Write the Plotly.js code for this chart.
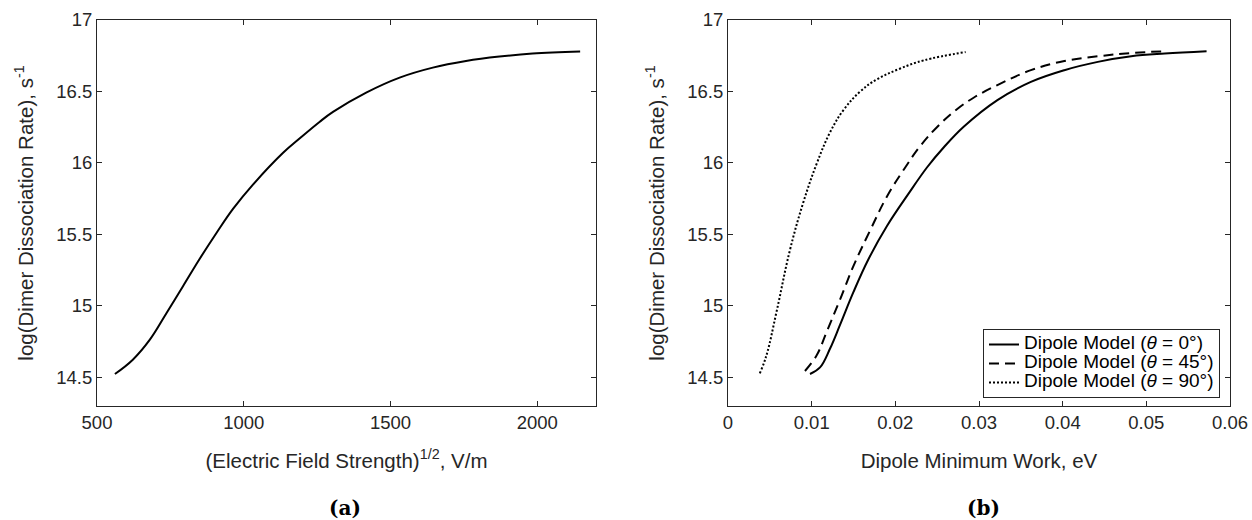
<!DOCTYPE html>
<html>
<head>
<meta charset="utf-8">
<script src="https://cdn.plot.ly/plotly-3.0.1.min.js"></script>
<style>html,body{margin:0;padding:0;background:#fff;}#chart{width:1252px;height:520px;}</style>
</head>
<body>
<div id="chart"></div>
<script>
// Panel (a): rate vs sqrt(field)
var fieldSqrt = [561, 622, 680, 737, 793, 850, 907, 964, 1032, 1134, 1190, 1258, 1304, 1417, 1531, 1644, 1757, 1871, 1984, 2146];
var rateA     = [14.524, 14.624, 14.764, 14.951, 15.138, 15.33, 15.51, 15.68, 15.85, 16.071, 16.171, 16.287, 16.357, 16.492, 16.597, 16.667, 16.713, 16.744, 16.765, 16.779];

// Panel (b): rate vs dipole minimum work
var work0  = [0.0098, 0.011, 0.0122, 0.0134, 0.015, 0.0168, 0.019, 0.0216, 0.0238, 0.0258, 0.0282, 0.0322, 0.0362, 0.0402, 0.0442, 0.0482, 0.0522, 0.0572];
var rate0  = [14.524, 14.57, 14.702, 14.869, 15.098, 15.328, 15.559, 15.787, 15.97, 16.11, 16.255, 16.44, 16.567, 16.649, 16.707, 16.746, 16.765, 16.781];
var work45 = [0.0092, 0.0106, 0.0118, 0.0134, 0.015, 0.017, 0.019, 0.021, 0.023, 0.025, 0.0274, 0.0294, 0.0322, 0.0362, 0.0402, 0.0442, 0.0482, 0.052];
var rate45 = [14.545, 14.655, 14.82, 15.046, 15.28, 15.53, 15.766, 15.953, 16.12, 16.252, 16.378, 16.458, 16.545, 16.649, 16.713, 16.746, 16.769, 16.781];
var work90 = [0.0038, 0.0046, 0.0058, 0.0074, 0.009, 0.0106, 0.0122, 0.0138, 0.0158, 0.0178, 0.0206, 0.0234, 0.0284];
var rate90 = [14.528, 14.655, 14.959, 15.39, 15.724, 15.995, 16.215, 16.37, 16.5, 16.585, 16.661, 16.718, 16.776];

var seriesNames = ['Dipole Model (<i>θ</i> = 0°)', 'Dipole Model (<i>θ</i> = 45°)', 'Dipole Model (<i>θ</i> = 90°)'];

var xTicksA = [500, 1000, 1500, 2000];
var xTicksB = [0, 0.01, 0.02, 0.03, 0.04, 0.05, 0.06];
var xTickTextB = ['0', '0.01', '0.02', '0.03', '0.04', '0.05', '0.06'];
var yTicks = [14.5, 15, 15.5, 16, 16.5, 17];
var yTickText = ['14.5', '15', '15.5', '16', '16.5', '17'];

var FONT = 'Liberation Sans, Arial, Helvetica, sans-serif';
var TXT = '#262626';

function legendLabel(s) { return '<span style="font-size:19px">' + s + '</span>'; }

var traces = [
  {x: fieldSqrt, y: rateA, xaxis: 'x', yaxis: 'y', mode: 'lines', showlegend: false,
   line: {color: '#000', width: 2, shape: 'spline', smoothing: 1.1}},
  {x: work0, y: rate0, xaxis: 'x2', yaxis: 'y2', mode: 'lines', name: legendLabel(seriesNames[0]),
   line: {color: '#000', width: 2, shape: 'spline', smoothing: 1.1}},
  {x: work45, y: rate45, xaxis: 'x2', yaxis: 'y2', mode: 'lines', name: legendLabel(seriesNames[1]),
   line: {color: '#000', width: 2, dash: '10px,6px', shape: 'spline', smoothing: 1.1}},
  {x: work90, y: rate90, xaxis: 'x2', yaxis: 'y2', mode: 'lines', name: legendLabel(seriesNames[2]),
   line: {color: '#000', width: 2, dash: '2px,2px', shape: 'spline', smoothing: 1.1}}
];

function xa(domain, range, tv, tt, title, anchor) {
  return {
    domain: domain, range: range, anchor: anchor,
    tickmode: 'array', tickvals: tv, ticktext: tt,
    ticks: 'inside', ticklen: 5, tickwidth: 1, tickcolor: TXT,
    showline: true, linecolor: TXT, linewidth: 1, mirror: 'ticks',
    showgrid: false, zeroline: false,
    tickfont: {family: FONT, size: 18.5, color: TXT},
    title: {text: title, font: {family: FONT, size: 20.5, color: TXT}, standoff: 21}
  };
}
function ya(domain, anchor) {
  return {
    domain: domain, range: [14.3, 17], anchor: anchor,
    tickmode: 'array', tickvals: yTicks, ticktext: yTickText,
    ticks: 'inside', ticklen: 5, tickwidth: 1, tickcolor: TXT,
    showline: true, linecolor: TXT, linewidth: 1, mirror: 'ticks',
    showgrid: false, zeroline: false,
    tickfont: {family: FONT, size: 18.5, color: TXT},
    title: {text: 'log(Dimer Dissociation Rate), s<sup>-1</sup>', font: {family: FONT, size: 20.5, color: TXT}, standoff: 17}
  };
}

var yDom = [(520 - 406) / 520, (520 - 20) / 520];

var layout = {
  width: 1252, height: 520,
  margin: {l: 0, r: 0, t: 0, b: 0},
  paper_bgcolor: '#fff', plot_bgcolor: '#fff',
  showlegend: true,
  xaxis: xa([97 / 1252, 596 / 1252], [500, 2200], xTicksA, xTicksA.map(String), '(Electric Field Strength)<sup>1/2</sup>, V/m', 'y'),
  yaxis: ya(yDom, 'x'),
  xaxis2: xa([728 / 1252, 1230 / 1252], [0, 0.06], xTicksB, xTickTextB, 'Dipole Minimum Work, eV', 'y2'),
  yaxis2: ya(yDom, 'x2'),
  legend: {
    x: 1220 / 1252, xanchor: 'right', y: (520 - 398) / 520, yanchor: 'bottom',
    bgcolor: '#fff', bordercolor: TXT, borderwidth: 1,
    font: {family: FONT, size: 12, color: '#000'},
    tracegroupgap: 0, itemwidth: 30
  },
  annotations: [
    {text: '<b>(a)</b>', xref: 'paper', yref: 'paper', x: 345 / 1252, y: (520 - 508) / 520,
     xanchor: 'center', yanchor: 'middle', showarrow: false,
     font: {family: 'DejaVu Serif, serif', size: 20, color: '#000'}},
    {text: '<b>(b)</b>', xref: 'paper', yref: 'paper', x: 983 / 1252, y: (520 - 508) / 520,
     xanchor: 'center', yanchor: 'middle', showarrow: false,
     font: {family: 'DejaVu Serif, serif', size: 20, color: '#000'}}
  ]
};

Plotly.newPlot('chart', traces, layout, {displayModeBar: false, staticPlot: true});
</script>
</body>
</html>
